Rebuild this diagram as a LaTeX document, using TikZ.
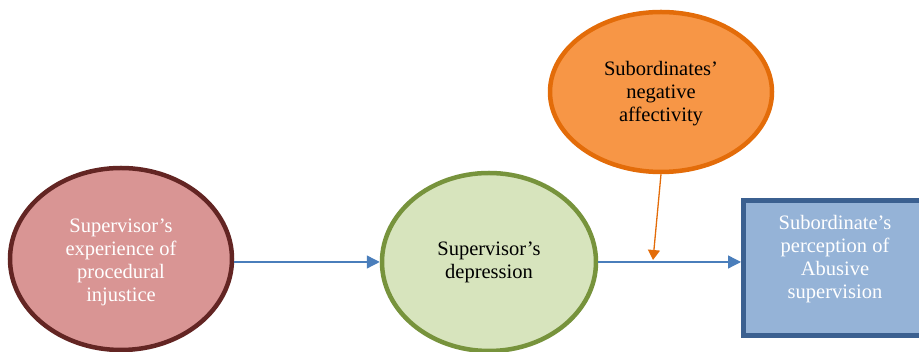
\documentclass[tikz,border=0pt]{standalone}
\usepackage{fontspec}
\setmainfont{Liberation Serif}
\usetikzlibrary{shapes.geometric,arrows.meta}

\definecolor{redfill}{HTML}{D99594}
\definecolor{redline}{HTML}{632523}
\definecolor{greenfill}{HTML}{D7E4BD}
\definecolor{greenline}{HTML}{77933C}
\definecolor{orangefill}{HTML}{F79646}
\definecolor{orangeline}{HTML}{E36C09}
\definecolor{bluefill}{HTML}{95B3D7}
\definecolor{blueline}{HTML}{3B6090}
\definecolor{arrowblue}{HTML}{4A7EBB}

\tikzset{
  label text/.style={font=\fontsize{20.5}{23}\selectfont, align=center},
  oval/.style={ellipse, inner sep=0pt, line width=4.5pt},
  flow/.style={draw=arrowblue, line width=1.3pt, -{Triangle[length=13pt,width=13pt]}},
  modflow/.style={draw=orangeline, line width=1.3pt, -{Triangle[length=10pt,width=12pt]}}
}

\begin{document}
\begin{tikzpicture}[x=1pt,y=1pt]
  \useasboundingbox (0,0) rectangle (919,352);
  \begin{scope}
    \clip (0,0) rectangle (919,352);

    % independent variable
    \node[oval, draw=redline, fill=redfill,
          minimum width=222pt, minimum height=182pt] (red) at (121,93) {};
    \node[label text, text=white] (redtext) at (121,90)
      {Supervisor's\\experience of\\procedural\\injustice};

    % mediator
    \node[oval, draw=greenline, fill=greenfill,
          minimum width=214pt, minimum height=178pt] (green) at (489,90) {};
    \node[label text, text=black] (greentext) at (489,90)
      {Supervisor's\\depression};

    % moderator
    \node[oval, draw=orangeline, fill=orangefill,
          minimum width=222pt, minimum height=160pt] (orange) at (661,260) {};
    \node[label text, text=black] (orangetext) at (661,258)
      {Subordinates'\\negative\\affectivity};

    % outcome
    \node[rectangle, draw=blueline, fill=bluefill, line width=5pt,
          minimum width=188pt, minimum height=135pt,
          anchor=north west] (blue) at (741,154) {};
    \node[label text, text=white] (bluetext) at (835,93)
      {Subordinate's\\perception of\\Abusive\\supervision};

    % connectors
    \draw[flow] (red.east |- green.center) -- (green.west);
    \draw[flow] (green.east) -- (blue.west |- green.center);
    \coordinate (mod) at (653,92);
    \draw[modflow] (orange.south) -- (mod);
  \end{scope}
\end{tikzpicture}
\end{document}
